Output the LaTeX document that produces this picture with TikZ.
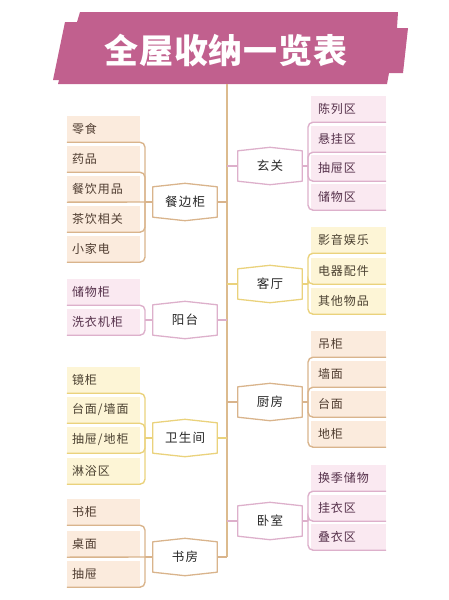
\documentclass[tikz,border=0pt]{standalone}
\usepackage{fontspec}
\newfontfamily\leaffont[LetterSpace=8]{Noto Sans CJK SC}
\newfontfamily\hubfont[LetterSpace=10]{Noto Sans CJK SC}
\newfontfamily\titlefont[LetterSpace=2]{Noto Sans CJK SC}

\definecolor{bannercol}{HTML}{C1608E}
\definecolor{trunkcol}{HTML}{DCBB8E}
\definecolor{tanfill}{HTML}{FBEBDD}
\definecolor{tanline}{HTML}{D9B48C}
\definecolor{tantext}{HTML}{4F3C30}
\definecolor{pinkfill}{HTML}{FAE9F1}
\definecolor{pinkline}{HTML}{DDB0CB}
\definecolor{pinktext}{HTML}{55304A}
\definecolor{yellowfill}{HTML}{FDF5D6}
\definecolor{yellowline}{HTML}{EAD27C}
\definecolor{yellowtext}{HTML}{4A4030}

\begin{document}
\begin{tikzpicture}[x=1pt, y=-1pt,
		leaf/.style={fill=#1fill, text=#1text, minimum height=26, inner ysep=0pt, align=left, font=\leaffont\fontsize{12}{14}\selectfont},
		leftleaf/.style={leaf=#1, minimum width=73, text width=63, inner xsep=5pt},
		rightleaf/.style={leaf=#1, minimum width=75, text width=61, inner xsep=7pt},
		hub/.style={minimum width=64, minimum height=30, inner sep=0pt, text=black!85, font=\hubfont\fontsize{12.5}{14}\selectfont,
			append after command={\pgfextra{\draw[draw=#1line, line width=1.3pt, line join=round]
				(\tikzlastnode.north west) -- ([yshift=3.5pt]\tikzlastnode.north) -- (\tikzlastnode.north east)
				-- (\tikzlastnode.south east) -- ([yshift=-3.5pt]\tikzlastnode.south) -- (\tikzlastnode.south west) -- cycle;}}},
		link/.style={draw=#1line, line width=1.4pt, rounded corners=5pt},
		trunk/.style={draw=trunkcol, line width=1.4pt}]

		\useasboundingbox (0,0) rectangle (449,600);

		% Title banner
		\fill[bannercol] (80,12) -- (398,12) -- (397,28) -- (408,28) -- (403,73) -- (389,73) -- (387,84)
			-- (58,84) -- (59,80) -- (53,80) -- (65,22) -- (77,22) -- cycle;
		\node[text=white, font=\titlefont\bfseries\fontsize{34}{36}\selectfont] (title) at (226,51) {全屋收纳一览表};

		% Define the nodes
		\node[hub=tan] (sideboard) at (185,202) {餐边柜};
		\node[hub=pink] (balcony) at (185,320) {阳台};
		\node[hub=yellow] (bathroom) at (185,438) {卫生间};
		\node[hub=tan] (study) at (185,557) {书房};
		\node[hub=pink] (entrance) at (270,166) {玄关};
		\node[hub=yellow] (living) at (270,284) {客厅};
		\node[hub=tan] (kitchen) at (270,402) {厨房};
		\node[hub=pink] (bedroom) at (270,521) {卧室};

		\node[leftleaf=tan] (snack) at (103.5,129) {零食};
		\node[leftleaf=tan] (medicine) at (103.5,159) {药品};
		\node[leftleaf=tan] (tableware) at (103.5,189) {餐饮用品};
		\node[leftleaf=tan] (tea) at (103.5,219) {茶饮相关};
		\node[leftleaf=tan] (appliance) at (103.5,249) {小家电};

		\node[leftleaf=pink] (storage) at (103.5,292) {储物柜};
		\node[leftleaf=pink] (washer) at (103.5,322) {洗衣机柜};

		\node[leftleaf=yellow] (mirror) at (103.5,380) {镜柜};
		\node[leftleaf=yellow] (counter) at (103.5,410) {台面/墙面};
		\node[leftleaf=yellow] (drawer) at (103.5,440) {抽屉/地柜};
		\node[leftleaf=yellow] (shower) at (103.5,471) {淋浴区};

		\node[leftleaf=tan] (bookcase) at (103.5,512) {书柜};
		\node[leftleaf=tan] (desk) at (103.5,544) {桌面};
		\node[leftleaf=tan] (bookdrawer) at (103.5,574) {抽屉};

		\node[rightleaf=pink] (display) at (348.5,109) {陈列区};
		\node[rightleaf=pink] (hanging) at (348.5,139) {悬挂区};
		\node[rightleaf=pink] (drawerzone) at (348.5,168) {抽屉区};
		\node[rightleaf=pink] (storagezone) at (348.5,197) {储物区};

		\node[rightleaf=yellow] (media) at (348.5,240) {影音娱乐};
		\node[rightleaf=yellow] (electric) at (348.5,271) {电器配件};
		\node[rightleaf=yellow] (others) at (348.5,301) {其他物品};

		\node[rightleaf=tan] (wallcab) at (348.5,344) {吊柜};
		\node[rightleaf=tan] (wall) at (348.5,374) {墙面};
		\node[rightleaf=tan] (worktop) at (348.5,404) {台面};
		\node[rightleaf=tan] (basecab) at (348.5,434) {地柜};

		\node[rightleaf=pink] (seasonal) at (348.5,478) {换季储物};
		\node[rightleaf=pink] (hangclothes) at (348.5,508) {挂衣区};
		\node[rightleaf=pink] (foldclothes) at (348.5,537) {叠衣区};

		% Junctions
		\coordinate (trunktop) at (227,84);
		\coordinate (trunkbot) at (227,557);
		\coordinate (sideboardj) at (145,202);
		\coordinate (balconyj) at (145,320);
		\coordinate (bathroomj) at (145,438);
		\coordinate (studyj) at (145,557);
		\coordinate (entrancej) at (308,166);
		\coordinate (livingj) at (308,284);
		\coordinate (kitchenj) at (308,402);
		\coordinate (bedroomj) at (308,521);

		% Define the edges
		\draw[trunk] (trunktop) -- (trunkbot);
		\draw[link=tan] (sideboard.east) -- (sideboard.east -| trunktop);
		\draw[link=pink] (balcony.east) -- (balcony.east -| trunktop);
		\draw[link=yellow] (bathroom.east) -- (bathroom.east -| trunktop);
		\draw[link=tan] (study.east) -- (study.east -| trunktop);
		\draw[link=pink] (entrance.west -| trunktop) -- (entrance.west);
		\draw[link=yellow] (living.west -| trunktop) -- (living.west);
		\draw[link=tan] (kitchen.west -| trunktop) -- (kitchen.west);
		\draw[link=pink] (bedroom.west -| trunktop) -- (bedroom.west);

		\draw[link=tan] (sideboard.west) -- (sideboardj);
		\draw[link=tan] (sideboardj) |- (snack.south west);
		\draw[link=tan] (sideboardj) |- (medicine.south west);
		\draw[link=tan] (sideboardj) -- (tableware.south west);
		\draw[link=tan] (sideboardj) |- (tea.south west);
		\draw[link=tan] (sideboardj) |- (appliance.south west);

		\draw[link=pink] (balcony.west) -- (balconyj);
		\draw[link=pink] (balconyj) |- (storage.south west);
		\draw[link=pink] (balconyj) |- (washer.south west);

		\draw[link=yellow] (bathroom.west) -- (bathroomj);
		\draw[link=yellow] (bathroomj) |- (mirror.south west);
		\draw[link=yellow] (bathroomj) |- (counter.south west);
		\draw[link=yellow] (bathroomj) |- (drawer.south west);
		\draw[link=yellow] (bathroomj) |- (shower.south west);

		\draw[link=tan] (study.west) -- (studyj);
		\draw[link=tan] (studyj) |- (bookcase.south west);
		\draw[link=tan] (studyj) -- (desk.south west);
		\draw[link=tan] (studyj) |- (bookdrawer.south west);

		\draw[link=pink] (entrance.east) -- (entrancej);
		\draw[link=pink] (entrancej) |- (display.south east);
		\draw[link=pink] (entrancej) |- (hanging.south east);
		\draw[link=pink] (entrancej) |- (drawerzone.south east);
		\draw[link=pink] (entrancej) |- (storagezone.south east);

		\draw[link=yellow] (living.east) -- (livingj);
		\draw[link=yellow] (livingj) |- (media.south east);
		\draw[link=yellow] (livingj) |- (electric.south east);
		\draw[link=yellow] (livingj) |- (others.south east);

		\draw[link=tan] (kitchen.east) -- (kitchenj);
		\draw[link=tan] (kitchenj) |- (wallcab.south east);
		\draw[link=tan] (kitchenj) |- (wall.south east);
		\draw[link=tan] (kitchenj) |- (worktop.south east);
		\draw[link=tan] (kitchenj) |- (basecab.south east);

		\draw[link=pink] (bedroom.east) -- (bedroomj);
		\draw[link=pink] (bedroomj) |- (seasonal.south east);
		\draw[link=pink] (bedroomj) |- (hangclothes.south east);
		\draw[link=pink] (bedroomj) |- (foldclothes.south east);

	\end{tikzpicture}
\end{document}
